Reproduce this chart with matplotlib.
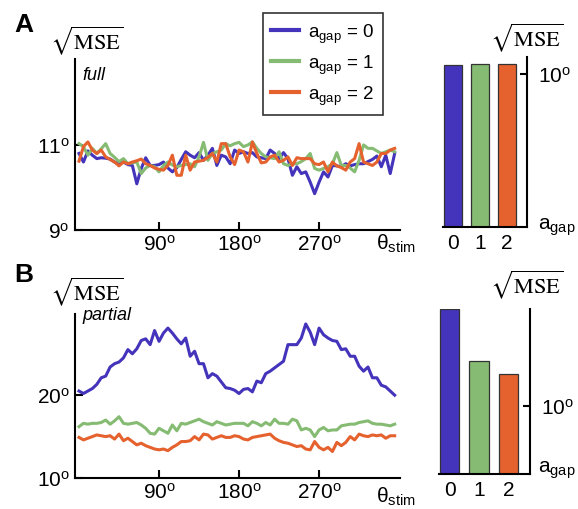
import matplotlib
matplotlib.use("Agg")
import matplotlib.pyplot as plt
import numpy as np

plt.rcParams["font.family"] = ["Liberation Sans", "DejaVu Sans"]
plt.rcParams["mathtext.fontset"] = "custom"
plt.rcParams["mathtext.rm"] = "Liberation Sans"
plt.rcParams["mathtext.it"] = "Liberation Sans:italic"
plt.rcParams["mathtext.bf"] = "Liberation Sans:bold"

# stimulus orientation (degrees)
theta_stim = list(range(0, 360, 5))

# full readout: sqrt(MSE) per orientation, one list per gap strength
full_gap0 = [10.79, 10.59, 10.85, 10.75, 10.67, 10.69, 10.68, 10.66, 10.59, 10.55,
             10.59, 10.53, 10.51, 10.08, 10.44, 10.69, 10.51, 10.51, 10.53, 10.59,
             10.45, 10.36, 10.46, 10.65, 10.83, 10.75, 10.69, 10.81, 10.63, 10.75,
             10.91, 10.51, 10.75, 10.71, 10.55, 10.87, 10.79, 10.83, 10.79, 10.81,
             10.71, 10.69, 10.67, 10.87, 10.79, 10.67, 10.81, 10.67, 10.28, 10.48,
             10.32, 10.36, 10.12, 9.85, 10.12, 10.36, 10.24, 10.51, 10.50, 10.48,
             10.55, 10.50, 10.53, 10.55, 10.55, 10.60, 10.65, 10.73, 10.48, 10.75,
             10.32, 10.79]
full_gap1 = [11.02, 10.95, 10.75, 10.91, 10.79, 10.90, 11.02, 10.79, 10.70, 10.60,
             10.67, 10.55, 10.57, 10.59, 10.32, 10.45, 10.51, 10.48, 10.36, 10.51,
             10.59, 10.52, 10.48, 10.51, 10.53, 10.55, 10.48, 10.71, 11.05, 10.63,
             10.79, 10.83, 10.87, 11.02, 10.97, 11.02, 11.05, 10.95, 10.99, 11.06,
             10.91, 10.79, 10.71, 10.69, 10.67, 10.83, 10.55, 10.51, 10.55, 10.55,
             10.60, 10.67, 10.79, 10.44, 10.40, 10.44, 10.48, 10.55, 10.81, 10.51,
             10.51, 10.45, 10.36, 10.63, 10.99, 10.91, 10.91, 10.85, 10.79, 10.83,
             10.87, 10.83]
full_gap2 = [10.61, 10.95, 11.06, 10.87, 10.79, 10.87, 10.71, 10.65, 10.59, 10.50,
             10.59, 10.55, 10.59, 10.62, 10.66, 10.55, 10.51, 10.45, 10.42, 10.40,
             10.51, 10.75, 10.28, 10.28, 10.75, 10.40, 10.59, 10.61, 10.63, 10.70,
             10.79, 10.59, 11.02, 11.02, 10.71, 10.53, 10.87, 10.83, 10.59, 11.06,
             10.79, 10.57, 10.59, 10.71, 10.75, 10.59, 10.63, 10.71, 10.51, 10.69,
             10.67, 10.67, 10.67, 10.55, 10.53, 10.59, 10.36, 10.59, 10.50, 10.46,
             10.40, 10.59, 10.67, 11.02, 10.59, 10.55, 10.51, 10.59, 10.79, 10.79,
             10.87, 10.91]

# partial readout
partial_gap0 = [20.5, 20.2, 20.5, 20.8, 21.3, 22.1, 22.3, 23.4, 23.8, 24.0,
                24.5, 25.5, 25.0, 25.6, 26.6, 26.8, 26.1, 27.8, 26.5, 27.5,
                28.1, 27.5, 26.8, 26.2, 26.9, 24.7, 25.3, 23.8, 23.8, 22.1,
                22.6, 22.3, 21.6, 20.9, 20.8, 20.6, 20.2, 20.7, 20.8, 20.4,
                21.7, 21.5, 22.6, 22.9, 23.3, 23.7, 24.1, 26.1, 26.1, 26.1,
                26.9, 28.6, 27.6, 26.1, 28.1, 27.3, 26.9, 26.6, 26.5, 25.5,
                25.6, 24.7, 24.7, 23.5, 22.9, 23.4, 22.1, 22.1, 21.2, 21.0,
                20.5, 20.0]
partial_gap1 = [16.2, 16.6, 16.5, 16.6, 16.6, 16.7, 17.0, 16.5, 16.9, 17.4,
                16.6, 16.5, 16.6, 16.7, 16.4, 16.0, 15.4, 15.3, 16.0, 15.7,
                15.4, 16.4, 15.7, 16.6, 16.5, 16.7, 16.9, 17.1, 16.8, 16.6,
                16.4, 16.8, 16.6, 16.4, 16.5, 16.6, 16.6, 16.6, 16.3, 16.8,
                16.6, 16.3, 16.7, 16.4, 17.1, 16.6, 16.6, 16.5, 17.1, 16.9,
                15.8, 16.0, 15.8, 15.0, 15.8, 16.1, 15.7, 15.8, 15.8, 16.3,
                16.4, 16.5, 16.5, 16.7, 16.8, 16.9, 16.6, 16.5, 16.5, 16.4,
                16.3, 16.5]
partial_gap2 = [14.9, 14.6, 14.8, 15.0, 15.2, 15.1, 15.0, 15.1, 14.7, 15.3,
                14.5, 14.8, 14.4, 14.0, 14.2, 13.9, 13.7, 13.5, 13.4, 13.5,
                13.3, 13.7, 14.0, 14.4, 14.4, 14.5, 15.0, 14.6, 15.3, 15.2,
                14.7, 14.9, 15.1, 14.9, 14.9, 15.1, 15.0, 14.7, 14.6, 14.9,
                15.0, 15.1, 15.2, 15.3, 14.8, 14.5, 14.3, 14.2, 14.0, 13.8,
                13.9, 13.5, 13.4, 14.4, 13.7, 13.4, 13.7, 13.2, 14.3, 13.9,
                14.3, 15.0, 14.6, 15.3, 15.1, 15.0, 15.2, 15.1, 15.2, 14.8,
                15.1, 15.1]

# orientation-averaged error per gap strength
gap_values = [0, 1, 2]
full_mean = [10.6, 10.65, 10.62]
partial_mean = [24.3, 16.6, 14.7]

colors = ["#4433BB", "#85BB72", "#E5612D"]
labels = [r"a$_{\mathrm{gap}}$ = 0", r"a$_{\mathrm{gap}}$ = 1", r"a$_{\mathrm{gap}}$ = 2"]

W, H = 578, 510
fig = plt.figure(figsize=(W / 100, H / 100), dpi=100)


def rect(left, top, right, bottom):
    return [left / W, 1 - bottom / H, (right - left) / W, (bottom - top) / H]


def fxy(x, y):
    return x / W, 1 - y / H


TICK_FS = 15
SPINE_W = 1.5


def deg(v):
    return r"%d$^{\mathrm{o}}$" % v


def style_line_axes(ax, ylim, yticks):
    ax.set_xlim(-4.5, 361)
    ax.set_ylim(*ylim)
    for s in ("top", "right"):
        ax.spines[s].set_visible(False)
    for s in ("left", "bottom"):
        ax.spines[s].set_linewidth(SPINE_W)
    ax.set_xticks([90, 180, 270])
    ax.set_xticklabels([deg(v) for v in (90, 180, 270)])
    ax.set_yticks(yticks)
    ax.set_yticklabels([deg(v) for v in yticks])
    ax.tick_params(direction="in", length=6, width=SPINE_W, labelsize=TICK_FS, pad=3)
    ax.tick_params(axis="y", pad=4)


def style_bar_axes(ax, ylim, ytick):
    ax.set_xlim(-0.37, 2.74)
    ax.set_ylim(*ylim)
    for s in ("top", "left"):
        ax.spines[s].set_visible(False)
    for s in ("right", "bottom"):
        ax.spines[s].set_linewidth(SPINE_W)
    ax.yaxis.tick_right()
    ax.set_yticks([ytick])
    ax.set_yticklabels([deg(ytick)])
    ax.set_xticks(gap_values)
    ax.set_xticklabels([str(g) for g in gap_values])
    ax.tick_params(axis="x", length=0, labelsize=TICK_FS, pad=4)
    ax.tick_params(axis="y", direction="in", length=5, width=SPINE_W,
                   labelsize=TICK_FS, pad=8)


# ---- panel A: full ----
axA = fig.add_axes(rect(75, 60, 400, 231))
for vals, c, lab in zip([full_gap0, full_gap1, full_gap2], colors, labels):
    axA.plot(theta_stim, vals, color=c, lw=2.2, label=lab)
style_line_axes(axA, (9, 13.0), [9, 11])

leg = axA.legend(loc="upper left", bbox_to_anchor=fxy(263, 14),
                 bbox_transform=fig.transFigure, fontsize=13.5, frameon=True,
                 fancybox=False, handlelength=1.45, handletextpad=0.5,
                 labelspacing=0.42, borderpad=0.45, borderaxespad=0)
leg.get_frame().set_edgecolor("black")
leg.get_frame().set_linewidth(1.2)
for h in leg.get_lines():
    h.set_linewidth(3.0)

axAb = fig.add_axes(rect(443, 58, 527, 228))
axAb.bar(gap_values, full_mean, width=0.67, color=colors, edgecolor="#333333", linewidth=0.9)
style_bar_axes(axAb, (0, 11.1), 10)

# ---- panel B: partial ----
axB = fig.add_axes(rect(75, 315, 400, 479))
for vals, c in zip([partial_gap0, partial_gap1, partial_gap2], colors):
    axB.plot(theta_stim, vals, color=c, lw=2.2)
style_line_axes(axB, (10, 29.8), [10, 20])

axBb = fig.add_axes(rect(439, 310, 530, 475))
axBb.bar(gap_values, partial_mean, width=0.66, color=colors, edgecolor="#333333", linewidth=0.9)
style_bar_axes(axBb, (0, 24.3), 10)

# ---- annotations ----
sqrt_lbl = r"$\sqrt{\mathrm{MSE}}$"
for x, y in [(50, 41), (50, 292), (490, 38), (490, 285)]:
    fig.text(*fxy(x, y), sqrt_lbl, fontsize=16, math_fontfamily="stix",
             ha="left", va="center")

fig.text(*fxy(14, 32), "A", fontsize=19, fontweight="bold", ha="left", va="baseline")
fig.text(*fxy(14, 282), "B", fontsize=19, fontweight="bold", ha="left", va="baseline")
fig.text(*fxy(82, 80), "full", fontsize=13, style="italic", ha="left", va="baseline")
fig.text(*fxy(82, 320), "partial", fontsize=13, style="italic", ha="left", va="baseline")

for y in (250, 503):
    fig.text(*fxy(376, y), r"θ$_{\mathrm{stim}}$", fontsize=TICK_FS, ha="left", va="baseline")
for y in (230, 473):
    fig.text(*fxy(538, y), r"a$_{\mathrm{gap}}$", fontsize=TICK_FS, ha="left", va="baseline")

fig.savefig("out.png", dpi=100)
